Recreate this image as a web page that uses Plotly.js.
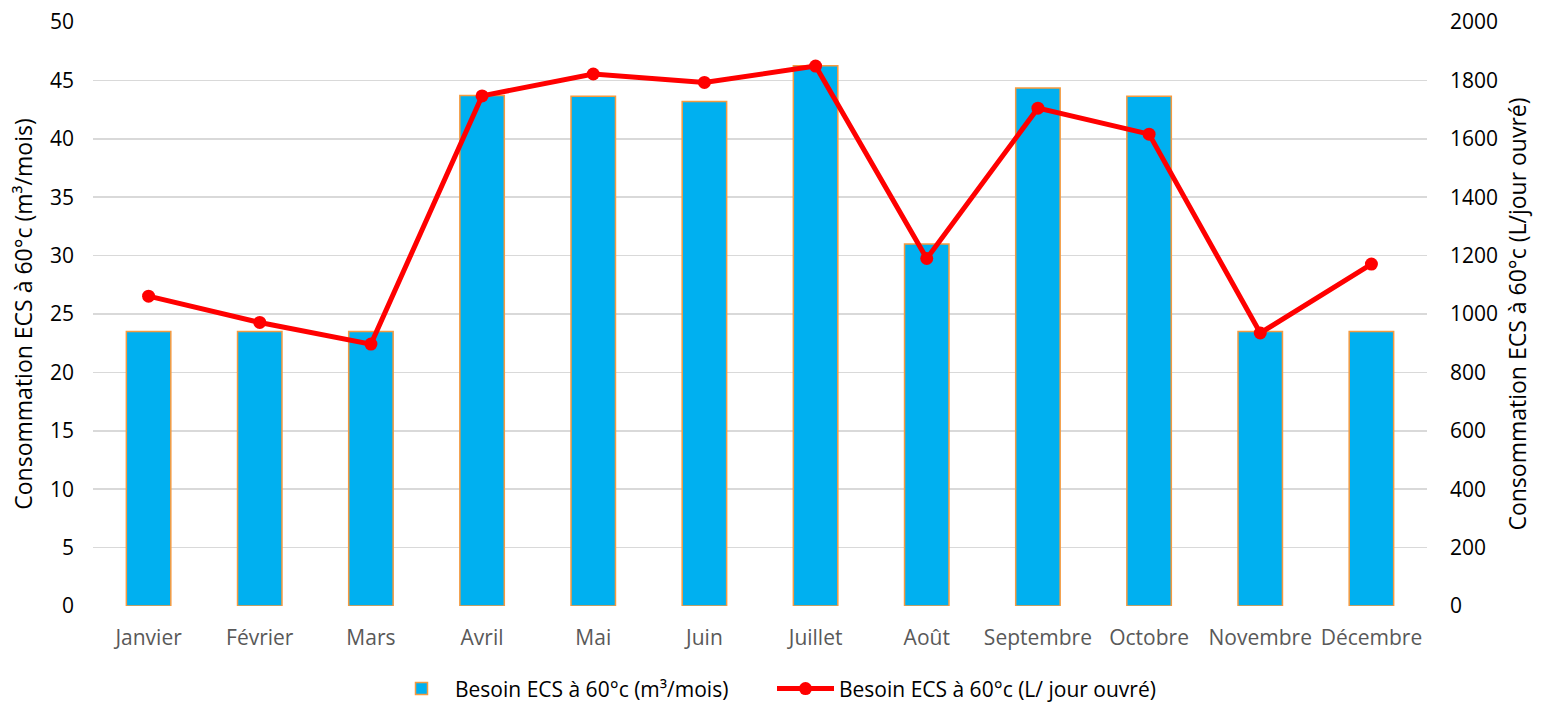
<!DOCTYPE html>
<html>
<head>
<meta charset="utf-8">
<script src="https://cdn.plot.ly/plotly-3.0.1.min.js"></script>
<style>
  html, body { margin: 0; padding: 0; background: #fff; }
  #chart { width: 1544px; height: 703px; }
</style>
</head>
<body>
<div id="chart"></div>
<script>
// Mois de l'année
const mois = ['Janvier', 'Février', 'Mars', 'Avril', 'Mai', 'Juin', 'Juillet',
              'Août', 'Septembre', 'Octobre', 'Novembre', 'Décembre'];

// Besoin mensuel en m³/mois (axe gauche)
const besoinMensuel = [23.5, 23.5, 23.5, 43.7, 43.65, 43.2, 46.25, 31.0, 44.35, 43.65, 23.5, 23.5];

// Besoin par jour ouvré en litres (axe droit)
const besoinJournalier = [1061, 971, 897, 1747, 1822, 1793, 1849, 1190, 1705, 1616, 935, 1171];

const police = '"Open Sans", sans-serif';

const traces = [
  {
    type: 'bar',
    name: 'Besoin ECS à 60°c (m³/mois)',
    x: mois,
    y: besoinMensuel,
    yaxis: 'y',
    width: 0.4,
    marker: { color: '#00B0F0', line: { color: '#F79A3E', width: 1.5 } }
  },
  {
    type: 'scatter',
    mode: 'lines+markers',
    name: 'Besoin ECS à 60°c (L/ jour ouvré)',
    x: mois,
    y: besoinJournalier,
    yaxis: 'y2',
    line: { color: '#FF0000', width: 5 },
    marker: { color: '#FF0000', size: 13 }
  }
];

const layout = {
  width: 1544,
  height: 703,
  margin: { l: 93, r: 117, t: 22, b: 97, autoexpand: false },
  paper_bgcolor: '#ffffff',
  plot_bgcolor: '#ffffff',
  font: { family: police, size: 20, color: '#000' },
  showlegend: true,
  legend: {
    orientation: 'h',
    x: 0.5, xanchor: 'center', xref: 'container',
    y: 0.02, yanchor: 'middle', yref: 'container',
    font: { size: 21, color: '#000' },
    traceorder: 'normal',
    itemwidth: 57,
    entrywidth: 312,
    entrywidthmode: 'pixels'
  },
  xaxis: {
    type: 'category',
    showgrid: false,
    zeroline: false,
    showline: false,
    ticks: '',
    ticklabelstandoff: 17,
    tickfont: { size: 21, color: '#595959' },
    range: [-0.5, 11.5],
    automargin: false
  },
  yaxis: {
    range: [0, 50],
    dtick: 5,
    showgrid: true,
    gridcolor: '#D9D9D9',
    gridwidth: 1.5,
    zeroline: false,
    ticks: '',
    ticklabelstandoff: 18,
    tickfont: { size: 21, color: '#000' },
    automargin: false,
    title: { text: 'Consommation ECS à 60°c (m³/mois)', font: { size: 23, color: '#000' }, standoff: 10 }
  },
  yaxis2: {
    overlaying: 'y',
    side: 'right',
    range: [0, 2000],
    dtick: 200,
    showgrid: false,
    zeroline: false,
    ticks: '',
    ticklabelstandoff: 22,
    tickfont: { size: 21, color: '#000' },
    automargin: false,
    title: { text: 'Consommation ECS à 60°c (L/jour ouvré)', font: { size: 23, color: '#000' }, standoff: 12 }
  }
};

Plotly.newPlot('chart', traces, layout, { displayModeBar: false, staticPlot: true });
</script>
</body>
</html>
